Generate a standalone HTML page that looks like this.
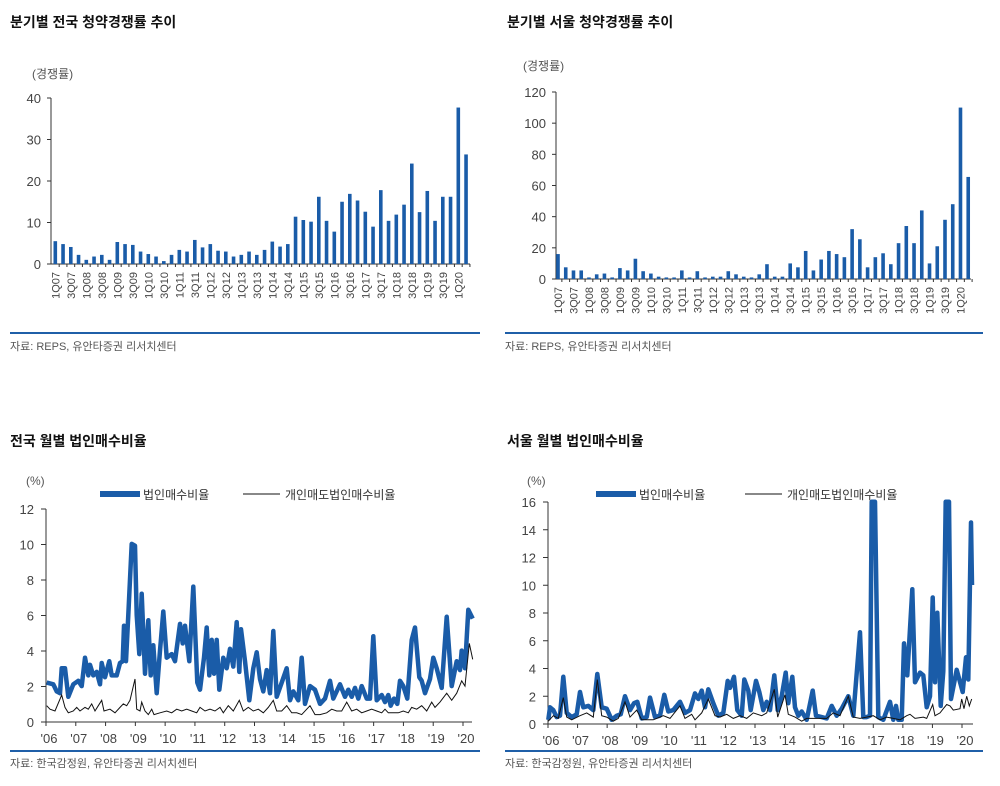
<!DOCTYPE html>
<html><head><meta charset="utf-8">
<style>
html,body{margin:0;padding:0;background:#fff;}
body{width:1000px;height:786px;overflow:hidden;}
svg{display:block;font-family:"Liberation Sans","Noto Sans CJK KR",sans-serif;}
</style></head>
<body>
<svg id="s" width="1000" height="786" viewBox="0 0 1000 786" xmlns="http://www.w3.org/2000/svg">
<g font-size="14" font-weight="bold" fill="#111">
<text x="10" y="27">분기별 전국 청약경쟁률 추이</text>
<text x="507" y="27">분기별 서울 청약경쟁률 추이</text>
<text x="10" y="446">전국 월별 법인매수비율</text>
<text x="507" y="446">서울 월별 법인매수비율</text>
</g>
<g stroke="#1f5fa8" stroke-width="2">
<line x1="10" y1="333" x2="480" y2="333"/><line x1="505" y1="333" x2="983" y2="333"/>
<line x1="10" y1="751" x2="480" y2="751"/><line x1="505" y1="751" x2="983" y2="751"/>
</g>
<g font-size="11" fill="#555">
<text x="10" y="350">자료: REPS, 유안타증권 리서치센터</text>
<text x="505" y="350">자료: REPS, 유안타증권 리서치센터</text>
<text x="10" y="767">자료: 한국감정원, 유안타증권 리서치센터</text>
<text x="505" y="767">자료: 한국감정원, 유안타증권 리서치센터</text>
<text x="32" y="78" font-size="12">(경쟁률)</text>
<text x="523" y="70" font-size="12">(경쟁률)</text>
<text x="26" y="485" font-size="12">(%)</text>
<text x="527" y="485" font-size="12">(%)</text>
</g>
<g id="g"></g>
</svg>
<script>
var g=document.getElementById('g'),h='';
function L(x1,y1,x2,y2,c,w){h+='<line x1="'+x1+'" y1="'+y1+'" x2="'+x2+'" y2="'+y2+'" stroke="'+c+'" stroke-width="'+w+'"/>';}
function T(x,y,t,a,extra){h+='<text x="'+x+'" y="'+y+'" text-anchor="'+a+'" '+(extra||'')+'>'+t+'</text>';}
function bars(ax,x0,x1,y0,ytop,max,step,vals,c0,pitch){
  L(ax,ytop,ax,y0,'#333',1);L(ax,y0,x1,y0,'#333',1);
  for(var v=0;v<=max;v+=step){var y=y0-(v/max)*(y0-ytop);L(ax-4,y,ax,y,'#333',1);T(ax-10,y+5,v,'end','font-size="13" fill="#444"');}
  var n=vals.length;
  for(var i=0;i<n;i++){var cx=c0+i*pitch;var bh=vals[i]/max*(y0-ytop);
    h+='<rect x="'+(cx-1.8)+'" y="'+(y0-bh)+'" width="3.6" height="'+bh+'" fill="#1a5ca8"/>';
    L(cx+pitch/2,y0,cx+pitch/2,y0+3,'#333',1);
    if(i%2==0&&i<=52){var q=(i%4==0?'1Q':'3Q')+('0'+(7+Math.floor(i/4))).slice(-2);
      h+='<text transform="translate('+(cx+4)+','+(y0+8)+') rotate(-90)" text-anchor="end" font-size="11" fill="#444">'+q+'</text>';}
  }
}
bars(51,51,470,264,98,40,10,[5.5,4.8,4.1,2.2,1.0,1.8,2.2,1.0,5.3,4.8,4.6,3.0,2.4,1.8,0.7,2.2,3.4,3.0,5.8,4.0,4.8,3.2,3.0,1.8,2.2,3.0,2.2,3.4,5.4,4.2,4.8,11.4,10.6,10.2,16.2,10.4,7.8,15.0,16.9,15.3,12.6,9.0,17.8,10.4,11.9,14.3,24.2,12.5,17.6,10.4,16.2,16.2,37.7,26.4],55.3,7.75);
bars(556,556,971,279,92,120,20,[16,7.5,5.5,5.5,1,3,3.5,1,7,5.5,13,5,3.5,1.5,1,1,5.5,1,5,1,1.5,1.5,5,3,1.5,1,3,9.5,1.5,1.5,10,7.5,18,5.5,12.5,18,16,14,32,25.5,7.5,14,16.5,9.5,23,34,23,44,10,21,38,48,110,65.5],558,7.74);
function lc(ax,x1,y0,ytop,max,step,x06,x20,off,zy0,zpu,blue,black,lg){
  L(ax,ytop,ax,y0,'#333',1);L(ax,y0,x1,y0,'#333',1);
  for(var v=0;v<=max;v+=step){var y=y0-(v/max)*(y0-ytop);L(ax-5,y,ax,y,'#333',1);T(ax-12,y+5,v,'end','font-size="13" fill="#444"');}
  for(var k=0;k<=14;k++){var x=x06+k*(x20-x06)/14;L(x,y0,x,y0+4,'#333',1);T(x+3,y0+21,"'"+('0'+(6+k)).slice(-2),'middle','font-size="13" fill="#444"');}
  function pts(a){var s='';for(var i=0;i<a.length;i+=2){s+=(a[i]/3+off).toFixed(1)+','+((zy0-a[i+1]*zpu)/3+470).toFixed(1)+' ';}return s;}
  h+='<polyline points="'+pts(blue)+'" fill="none" stroke="#1a5ca8" stroke-width="4.5" stroke-linejoin="round"/>';
  h+='<polyline points="'+pts(black)+'" fill="none" stroke="#111" stroke-width="1"/>';
  L(lg[0],494,lg[0]+40,494,'#1a5ca8',6);T(lg[0]+43,499,'법인매수비율','start','font-size="12" fill="#333"');
  L(lg[1],494,lg[1]+37,494,'#111',1);T(lg[1]+42,499,'개인매도법인매수비율','start','font-size="12" fill="#333"');
}
lc(46,472,722,509,12,2,46,463,0,755,53.33,
[140,2.2,160,2.1,170,1.7,180,1.6,185,3.0,195,3.0,205,1.4,220,2.1,235,2.3,245,2.0,255,3.6,265,2.6,270,3.2,280,2.6,290,2.8,300,2.1,305,3.3,315,2.5,328,3.4,335,2.6,350,2.6,360,3.3,368,3.4,372,5.4,378,3.4,385,6.0,395,10.0,405,9.9,410,6.0,418,3.8,425,7.2,435,2.7,445,5.7,452,2.6,460,4.3,470,1.6,480,4.0,490,6.2,500,3.6,515,3.8,525,3.4,540,5.5,548,4.4,555,5.4,568,3.4,580,7.6,592,2.2,600,1.8,612,3.6,620,5.3,628,2.6,635,4.6,642,2.7,650,4.6,658,1.8,670,3.6,680,3.0,690,4.1,700,3.1,710,5.6,718,2.8,723,5.2,735,3.4,748,1.2,760,3.0,770,3.9,780,2.4,790,1.7,800,2.9,810,1.6,820,5.1,830,1.4,845,2.2,860,3.0,870,1.2,880,1.7,895,1.2,905,3.6,915,1.0,930,2.0,945,1.8,960,1.0,975,1.3,990,2.3,1000,1.3,1020,2.1,1035,1.4,1045,1.8,1055,1.4,1065,1.9,1075,1.3,1085,2.0,1100,1.3,1110,1.3,1120,4.8,1130,1.2,1145,1.5,1155,1.1,1165,1.5,1172,0.9,1182,1.3,1192,1.0,1200,2.3,1210,2.0,1222,1.3,1235,4.6,1245,5.3,1258,2.5,1265,2.3,1275,1.6,1290,2.4,1300,3.6,1310,3.0,1325,1.9,1340,5.9,1355,2.0,1370,3.4,1380,2.9,1385,4.0,1395,3.0,1405,6.3,1418,5.8],
[140,0.9,150,0.7,165,0.6,185,1.5,195,0.8,205,0.5,220,0.6,230,0.8,240,0.6,255,0.8,265,0.7,275,1.0,285,0.6,295,0.9,305,1.2,312,0.6,330,0.7,345,0.5,360,0.8,370,1.0,380,0.9,390,1.2,405,2.4,410,0.7,420,0.6,425,1.1,435,0.6,445,0.4,455,0.7,462,0.4,480,0.5,500,0.6,515,0.5,530,0.7,545,0.6,560,0.7,575,0.6,590,0.5,600,0.8,615,0.6,630,0.7,645,0.6,660,0.8,670,0.5,685,0.9,700,0.6,718,1.2,730,0.6,745,0.8,760,0.6,775,0.7,790,0.5,805,0.8,820,1.2,830,0.6,845,0.6,860,0.9,875,0.5,890,0.5,905,0.4,930,0.9,945,0.4,960,0.4,980,0.5,995,0.7,1010,0.6,1025,0.6,1040,1.1,1055,0.6,1070,0.7,1085,0.5,1100,0.6,1115,0.7,1130,0.6,1145,0.5,1155,0.7,1165,0.5,1180,0.5,1195,0.5,1210,0.6,1225,0.5,1235,0.8,1250,0.7,1265,0.9,1280,0.6,1295,1.1,1305,0.8,1320,1.1,1340,1.6,1355,1.2,1370,1.6,1385,2.3,1395,2.0,1408,4.4,1418,3.5],[100,243]);
lc(548,973,724,502,16,2,548,962,500,762,41.69,
[145,0.3,150,1.2,160,1.0,170,0.5,180,0.6,190,3.4,200,0.8,215,0.5,230,0.7,240,2.3,250,1.2,265,1.3,280,1.0,292,3.6,305,1.2,320,1.1,335,0.3,350,0.6,362,0.7,375,2.0,390,1.0,402,1.5,412,1.6,425,0.4,440,0.5,450,1.9,465,0.5,480,0.6,493,2.1,505,0.9,520,1.0,540,1.6,555,0.8,570,1.0,585,2.2,595,1.8,605,2.4,615,1.2,625,2.5,640,1.5,655,0.6,670,0.8,683,3.1,690,2.6,702,3.4,712,1.0,725,0.6,733,3.2,745,2.4,752,1.0,768,3.1,778,2.3,790,1.0,800,1.6,810,1.0,823,3.5,833,1.0,845,2.0,857,3.7,865,1.5,877,3.4,885,1.2,895,0.6,905,0.9,920,0.3,938,2.4,948,0.6,965,0.5,980,0.4,995,1.3,1010,0.6,1025,1.1,1045,2.0,1060,0.6,1080,6.6,1090,0.5,1100,0.5,1110,0.6,1115,16,1125,16,1135,0.5,1150,0.3,1170,1.6,1180,0.3,1188,1.3,1195,0.3,1205,0.3,1212,5.8,1222,3.5,1237,9.7,1245,3.0,1260,3.7,1270,3.5,1280,1.2,1290,2.0,1298,9.1,1305,3.0,1312,8.0,1322,1.3,1330,3.8,1337,16,1347,16,1353,1.8,1370,3.9,1388,2.3,1398,4.8,1405,3.2,1413,14.5,1416,10],
[145,0.2,160,0.6,175,0.4,190,1.9,200,0.5,215,0.3,240,0.6,260,0.8,280,0.5,292,3.2,305,0.6,320,0.5,340,0.2,355,0.4,375,1.6,390,0.5,410,1.0,425,0.3,460,0.3,490,0.6,510,0.4,540,1.3,555,0.4,575,0.7,585,0.3,605,0.8,625,1.8,645,0.6,660,0.5,680,0.7,700,0.4,720,0.6,740,0.4,760,0.8,785,0.6,800,0.8,823,2.5,833,0.5,855,2.1,865,0.7,885,0.5,905,0.2,920,0.4,950,0.4,980,0.4,1000,0.8,1020,0.6,1045,2.0,1060,0.5,1080,0.4,1100,0.5,1120,0.6,1140,0.3,1160,0.5,1180,0.4,1200,0.3,1220,0.6,1230,0.7,1245,0.4,1270,0.5,1280,0.4,1298,1.4,1305,0.6,1320,0.8,1330,1.1,1340,1.4,1350,1.3,1360,1.0,1380,1.1,1385,1.8,1392,1.1,1400,2.0,1408,1.3,1415,1.8],[596,745]);
g.innerHTML=h;
</script>
</body></html>
